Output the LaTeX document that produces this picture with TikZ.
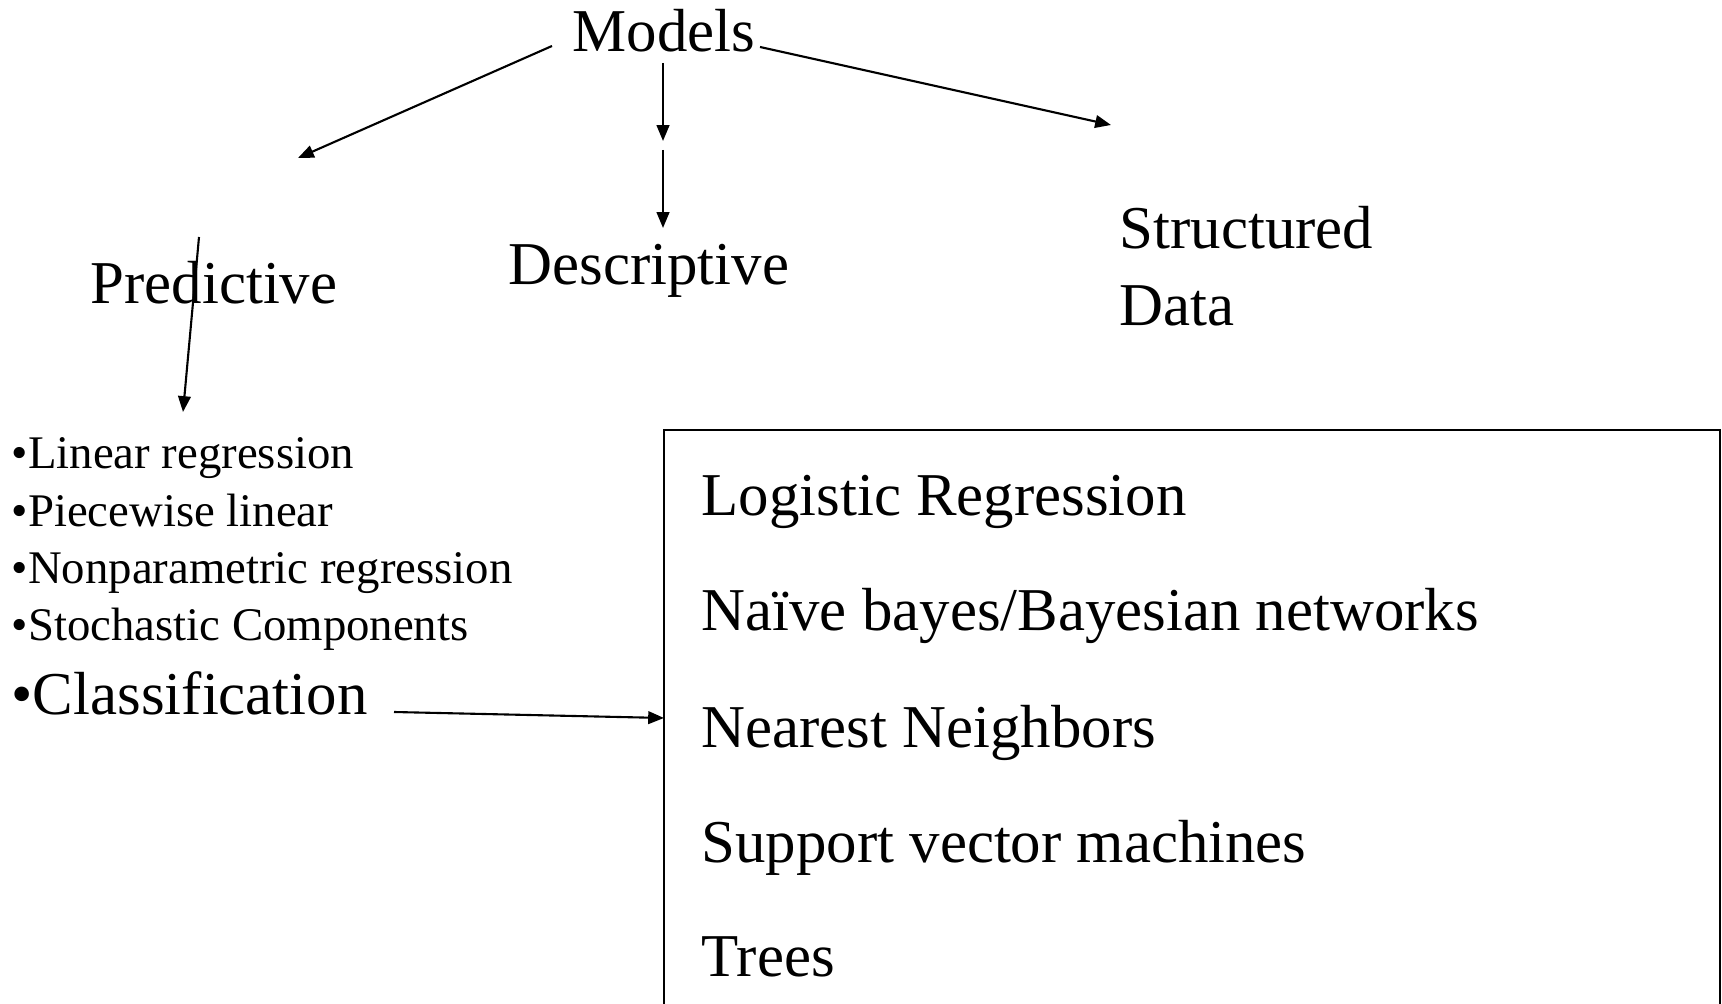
\documentclass[tikz,border=0pt]{standalone}
\usepackage{fontspec}
\setmainfont{Liberation Serif}
\usetikzlibrary{arrows.meta}
\begin{document}
\begin{tikzpicture}[x=0.01cm,y=-0.01cm,
  big/.style={inner sep=0pt,anchor=base west,font=\fontsize{17.3}{20}\selectfont},
  small/.style={inner sep=0pt,anchor=base west,font=\fontsize{13.3}{16}\selectfont},
  link/.style={line width=0.6pt,-{Triangle[length=4.5pt,width=3.6pt]}}]
\useasboundingbox (0,0) rectangle (1722,1004);
\clip (0,0) rectangle (1722,1004);

% top level and the three branches
\node[big] (models) at (572,52) {Models};
\node[big] (pred) at (90,304) {Predictive};
\node[big] (desc) at (508,285) {Descriptive};
\node[big,align=left,anchor=base west] (struct) at (1119,249) {Structured};
\node[big] (data) at (1119,326) {Data};

% arrow end points
\coordinate (mpS) at (552,46);
\coordinate (mpE) at (298,158);
\coordinate (md1S) at (663,63);
\coordinate (md1E) at (663,141);
\coordinate (md2S) at (663,150);
\coordinate (md2E) at (663,228);
\coordinate (msS) at (760,47);
\coordinate (msE) at (1111,125);
\coordinate (plS) at (199,237);
\coordinate (plE) at (183,412);
\coordinate (clS) at (394,712);

\draw[link] (mpS) -- (mpE);
\draw[link] (md1S) -- (md1E);
\draw[link] (md2S) -- (md2E);
\draw[link] (msS) -- (msE);
\draw[link] (plS) -- (plE);

% predictive methods
\node[small] (l1) at (11,469) {•Linear regression};
\node[small] (l2) at (11,527) {•Piecewise linear};
\node[small] (l3) at (11,584) {•Nonparametric regression};
\node[small] (l4) at (11,641) {•Stochastic Components};
\node[big]   (l5) at (11,715) {•Classification};

% classification methods box
\draw[line width=0.6pt] (664,430) rectangle (1720,1030);
\coordinate (boxL) at (664,718);
\draw[link] (clS) -- (boxL);

\node[big] (c1) at (701,516) {Logistic Regression};
\node[big] (c2) at (701,631) {Naïve bayes/Bayesian networks};
\node[big] (c3) at (701,747) {Nearest Neighbors};
\node[big] (c4) at (701,862) {Support vector machines};
\node[big] (c5) at (701,976) {Trees};
\end{tikzpicture}
\end{document}
